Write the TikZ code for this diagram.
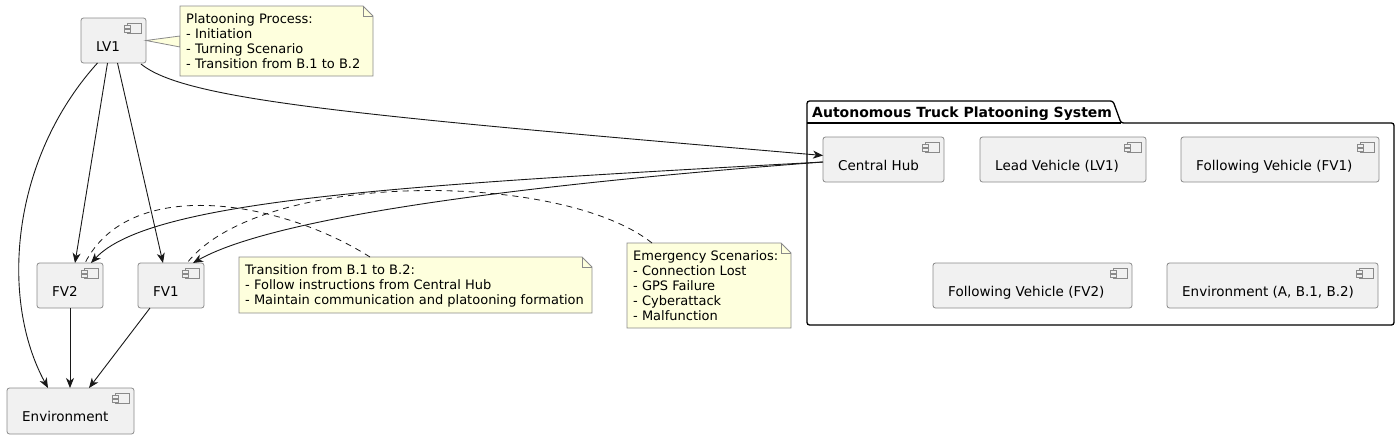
\documentclass[tikz,border=0pt]{standalone}
\usepackage{fontspec}
\setmainfont{DejaVu Sans}
\usetikzlibrary{arrows.meta,calc}
\definecolor{compfill}{HTML}{F1F1F1}
\definecolor{compline}{HTML}{8A8A8A}
\definecolor{notefill}{HTML}{FEFFDD}
\definecolor{linec}{HTML}{181818}
\tikzset{
  compbox/.style={draw=compline, fill=compfill, rounded corners=2.5pt, line width=0.8pt, inner sep=0pt, outer sep=0pt, anchor=north west},
  comptext/.style={font=\fontsize{13.5}{16}\selectfont, anchor=base west, inner sep=0pt, text=black},
  compicon/.style={draw=compline, fill=compfill, line width=0.7pt},
  notebox/.style={draw=compline, fill=notefill, line width=0.8pt},
  notetext/.style={font=\fontsize{13}{15}\selectfont, align=left, anchor=north west, inner sep=0pt, text=black},
  arr/.style={draw=linec, line width=0.9pt, -{Stealth[length=10pt,width=8pt,inset=3pt]}},
  notelink/.style={draw=linec, line width=0.8pt, dash pattern=on 6pt off 5pt},
  pkgline/.style={draw=black, line width=1.3pt},
  pkgtext/.style={font=\bfseries\fontsize{14}{16}\selectfont, anchor=base west, inner sep=0pt}
}
\newcommand\mycomp[6]{%
  \node[compbox, minimum width={#4-#2}, minimum height={#5-#3}] (#1) at (#2,#3) {};
  \draw[compicon] ($(#1.north east)+(-19,5)$) rectangle ++(14,10);
  \draw[compicon] ($(#1.north east)+(-22,7.5)$) rectangle ++(6,2.5);
  \draw[compicon] ($(#1.north east)+(-22,11.5)$) rectangle ++(6,2.5);
  \node[comptext] (#1-t) at ($(#1.north west)+(15,33.5)$) {#6};
}
\newcommand\mynote[6]{%
  \coordinate (#1-nw) at (#2,#3);
  \coordinate (#1-se) at (#4,#5);
  \path[notebox] (#2,#3) -- ({#4-10},#3) -- (#4,{#3+10}) -- (#4,#5) -- (#2,#5) -- cycle;
  \draw[compline, line width=0.8pt] ({#4-10},#3) -- ({#4-10},{#3+10}) -- (#4,{#3+10});
  \node[notetext] (#1) at ({#2+6},{#3+7}) {\strut #6};
}
\begin{document}
\begin{tikzpicture}[x=1pt,y=-1pt]
\useasboundingbox (0,0) rectangle (1400,439);

% package
\path[pkgline, rounded corners=2.5pt] (807,101) -- (1113,101) -- (1121,123) -- (1394,123) -- (1394,325) -- (807,325) -- cycle;
\draw[pkgline] (807,123) -- (1121,123);
\node[pkgtext] (pkg-t) at (812,117) {Autonomous Truck Platooning System};

% components
\mycomp{lv1}{81}{18}{146}{63}{LV1}
\mycomp{fv2}{37}{263}{103}{308}{FV2}
\mycomp{fv1}{138}{263}{204}{308}{FV1}
\mycomp{env}{7}{388}{134}{434}{Environment}
\mycomp{hub}{823}{137}{944}{182}{Central Hub}
\mycomp{lead}{980}{137}{1146}{182}{Lead Vehicle (LV1)}
\mycomp{pfv1}{1181}{137}{1379}{182}{Following Vehicle (FV1)}
\mycomp{pfv2}{933}{263}{1132}{308}{Following Vehicle (FV2)}
\mycomp{penv}{1167}{263}{1378}{308}{Environment (A, B.1, B.2)}

% note 1 with wedge
\path[notebox] (lv1.east) -- (180,36) -- (180,47) -- cycle;
\mynote{n1}{180}{6}{373}{76}{Platooning Process:\\- Initiation\\- Turning Scenario\\- Transition from B.1 to B.2}
\mynote{n2}{239}{257}{592}{313}{Transition from B.1 to B.2:\\- Follow instructions from Central Hub\\- Maintain communication and platooning formation}
\mynote{n3}{627}{243}{791}{328}{Emergency Scenarios:\\- Connection Lost\\- GPS Failure\\- Cyberattack\\- Malfunction}

% connectors
\draw[arr] ($(lv1.south)+(-16,0)$) .. controls (10,160) and (0,300) .. ($(env.north west)+(41,0)$);
\draw[arr] ($(lv1.south)+(-6,0)$) -- ($(fv2.north west)+(38,0)$);
\draw[arr] ($(lv1.south)+(4,0)$) -- ($(fv1.north west)+(25,0)$);
\draw[arr] ($(lv1.south east)+(-5,1)$) .. controls (185,100) and (350,115) .. ($(hub.west)+(0,-4)$);
\draw[arr] ($(hub.west)+(0,2.5)$) .. controls (400,185) and (150,200) .. ($(fv2.north east)+(-12,0)$);
\draw[arr] ($(hub.west)+(0,2.5)$) .. controls (450,190) and (260,225) .. ($(fv1.north east)+(-11,0)$);
\draw[arr] (fv2.south) -- (fv2.south |- env.north);
\draw[arr] ($(fv1.south west)+(12,0)$) -- ($(env.north west)+(82,0)$);

% note links
\draw[notelink] ($(n2-nw)+(131,0)$) .. controls (280,200) and (130,175) .. ($(fv2.north west)+(48,0)$);
\draw[notelink] ($(n3-nw)+(25,0)$) .. controls (560,170) and (260,170) .. ($(fv1.north west)+(49,0)$);
\end{tikzpicture}
\end{document}
